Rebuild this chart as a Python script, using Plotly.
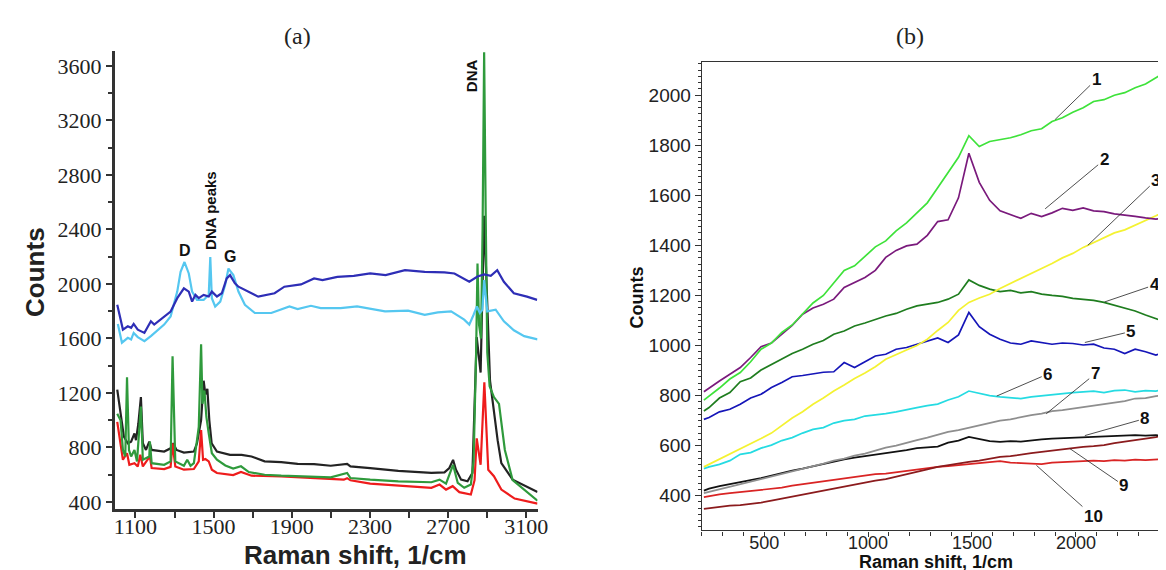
import plotly.graph_objects as go

W, H = 1166, 570

# ---------------- Panel (a) data ----------------
a_dblue_x = [1007,1036,1061,1078,1091,1112,1146,1179,1196,1247,1280,1314,1348,1373,1390,1407,1424,1449,1475,1491,
             1517,1542,1567,1584,1609,1627,1677,1728,1812,1862,1947,2014,2057,2133,2217,2301,2380,2479,2580,2681,
             2732,2766,2808,2850,2884,2918,2951,2985,3036,3103,3155]
a_dblue_y = [1847,1665,1689,1678,1707,1665,1641,1726,1702,1762,1798,1896,1968,1944,1871,1920,1896,1920,1908,1944,
             1908,1932,2041,2065,2004,1980,1944,1907,1932,1980,1997,2041,2028,2052,2060,2077,2065,2101,2089,2085,
             2077,2052,2016,2055,2070,2060,2101,2016,1932,1907,1883]

a_lblue_x = [1010,1031,1061,1078,1091,1112,1146,1179,1247,1280,1314,1331,1351,1373,1390,1415,1449,1475,1483,1491,
             1508,1534,1559,1576,1601,1627,1660,1711,1795,1888,1930,1998,2048,2150,2234,2301,2377,2495,2580,2647,
             2715,2782,2808,2830,2847,2862,2875,2884,2900,2943,2985,3036,3089,3157]
a_lblue_y = [1707,1569,1605,1593,1641,1610,1580,1617,1702,1762,1944,2089,2161,2077,1944,1883,1883,1920,2198,1896,
             1835,1871,1992,2113,2065,1944,1847,1787,1787,1835,1816,1840,1823,1823,1835,1816,1799,1804,1774,1791,
             1799,1738,1702,1774,1835,1787,1810,2028,1799,1811,1726,1660,1617,1593]

a_black_x = [1007,1027,1041,1061,1078,1095,1103,1115,1128,1138,1154,1171,1183,1247,1280,1294,1310,1348,1399,1415,
             1436,1449,1458,1468,1478,1490,1517,1584,1643,1694,1761,1846,1930,2014,2099,2183,2200,2301,2445,2614,
             2681,2706,2725,2740,2766,2799,2824,2846,2866,2884,2914,2953,2972,3030,3157]
a_black_y = [1225,1024,879,831,843,903,854,976,1170,831,782,843,782,770,794,831,782,763,770,831,
             1000,1290,1190,1230,1000,830,770,746,746,734,698,693,680,678,666,680,661,649,629,613,
             617,649,709,637,564,552,613,1610,1350,2500,1290,854,685,564,473]

a_green_x = [1007,1024,1036,1048,1057,1067,1078,1095,1108,1128,1138,1171,1174,1183,1247,1280,1290,1304,1348,1365,
             1382,1399,1415,1424,1436,1443,1453,1463,1475,1491,1517,1560,1600,1640,1680,1761,1846,1930,2014,2099,
             2183,2200,2301,2445,2614,2656,2689,2725,2749,2782,2816,2830,2843,2850,2858,2868,2876,2884,2892,2900,
             2912,2934,2960,2990,3030,3157]
a_green_y = [1048,1000,782,734,1315,782,734,782,698,1100,710,734,843,685,673,698,1470,698,666,710,
             666,685,854,952,1557,1121,1218,1024,903,758,710,668,645,662,620,600,593,588,581,581,
             613,576,564,552,545,564,535,673,540,504,528,700,1500,2150,1700,1600,2400,3700,2500,1500,
             1250,1170,1120,782,560,409]

a_red_x = [1007,1024,1036,1057,1069,1095,1112,1125,1138,1174,1183,1247,1280,1290,1304,1348,1399,1424,1436,1446,
           1458,1475,1491,1517,1560,1600,1640,1694,1846,2014,2166,2183,2200,2301,2445,2614,2656,2689,2723,2757,
           2816,2835,2846,2866,2885,2905,2934,2972,3040,3157]
a_red_y = [988,831,710,758,673,685,661,746,661,734,649,642,658,831,661,637,642,698,927,710,
           715,698,637,613,605,598,620,593,588,576,564,575,559,535,520,504,528,491,516,472,
           455,560,867,673,1278,637,589,491,425,388]

a_x_ticks = [1100, 1500, 1900, 2300, 2700, 3100]
a_y_ticks = [400, 800, 1200, 1600, 2000, 2400, 2800, 3200, 3600]

# ---------------- Panel (b) data ----------------
b_x = [210,235,285,335,385,435,485,535,585,635,685,735,785,835,885,935,985,1035,1085,1135,1185,1235,1285,1335,
       1385,1435,1485,1535,1585,1635,1685,1735,1785,1835,1885,1935,1985,2035,2085,2135,2185,2235,2285,2335,2385,2410]
b_y1 = [782,798,830,866,892,935,985,1010,1052,1082,1125,1170,1200,1248,1300,1318,1356,1394,1418,1458,1490,1532,1570,1630,
        1690,1752,1838,1795,1815,1822,1830,1842,1858,1866,1895,1910,1932,1950,1975,1982,2000,2010,2030,2045,2068,2082]
b_y2 = [815,830,858,885,912,952,995,1010,1045,1080,1125,1150,1165,1185,1232,1252,1272,1300,1352,1380,1398,1405,1440,1495,
        1502,1590,1768,1652,1580,1538,1522,1508,1528,1515,1530,1548,1540,1550,1538,1535,1526,1522,1516,1510,1505,1508]
b_y3 = [515,525,548,565,588,605,628,650,680,710,735,765,790,818,842,868,890,915,945,962,982,1000,1025,1060,
        1092,1140,1172,1190,1205,1228,1248,1265,1285,1305,1328,1350,1368,1392,1412,1432,1450,1462,1480,1498,1518,1530]
b_y4 = [738,752,790,812,855,870,902,925,948,968,985,1005,1020,1045,1058,1078,1090,1105,1118,1128,1145,1158,1165,1172,
        1185,1205,1262,1240,1225,1215,1220,1210,1215,1205,1200,1196,1188,1185,1180,1172,1160,1148,1138,1122,1108,1100]
b_y5 = [705,712,735,745,765,790,805,832,852,875,880,888,893,895,932,912,935,958,965,985,992,1005,1020,1030,
        1012,1042,1132,1075,1045,1025,1010,1005,1018,1012,1005,1010,1008,1002,1005,990,985,968,985,975,962,968]
b_y6 = [508,515,525,540,565,572,590,602,620,632,650,665,672,690,700,705,718,722,728,735,745,752,760,766,
        782,795,818,808,800,795,790,788,795,800,805,810,812,815,818,812,820,822,815,820,818,822]
b_y7 = [410,415,428,435,448,455,465,475,485,496,505,518,528,540,548,560,568,580,592,600,612,622,632,645,
        655,662,672,680,690,700,705,715,722,728,738,742,748,752,760,765,772,778,788,790,798,800]
b_y8 = [420,428,438,445,455,462,470,480,492,500,508,518,528,538,545,552,558,562,568,575,582,590,592,596,
        612,620,635,628,618,615,618,616,622,625,628,630,632,634,636,635,638,640,642,640,642,640]
b_y9 = [347,350,356,360,362,366,372,380,388,395,405,412,422,430,438,445,452,460,466,475,485,495,505,515,
        522,530,535,540,548,555,558,565,570,575,580,588,592,595,598,602,610,615,622,628,634,638]
b_y10 = [394,398,405,410,414,418,423,428,432,440,446,452,458,465,470,475,480,486,488,494,500,505,510,515,
         518,522,525,530,535,538,532,530,528,526,532,535,536,538,540,538,542,540,544,542,545,546]

b_series = [b_y1, b_y2, b_y3, b_y4, b_y5, b_y6, b_y7, b_y8, b_y9, b_y10]
b_names = ["1", "2", "3", "4", "5", "6", "7", "8", "9", "10"]
b_colors = ["#3ee23a", "#7a1a7c", "#f4f232", "#1f7d1f", "#1515b8",
            "#25dbe2", "#8e8e8e", "#111111", "#8b1b1d", "#d92424"]
b_x_ticks = [500, 1000, 1500, 2000]
b_y_ticks = [400, 600, 800, 1000, 1200, 1400, 1600, 1800, 2000]

# label anchor points (data) and label offsets (px) for panel (b)
b_lab_x = [1900, 1852, 2057, 2138, 2043, 1619, 1857, 2043, 1971, 1810]
b_lab_y = [1903, 1546, 1400, 1174, 1012, 798, 727, 640, 588, 521]
b_lab_ax = [41, 59, 68, 50, 46, 51, 49, 60, 54, 57]
b_lab_ay = [-40, -49, -65, -17, -11, -22, -40, -17, 37, 51]

fig = go.Figure()

a_traces = [(a_black_x, a_black_y, "#232323"), (a_red_x, a_red_y, "#ee1c1c"),
            (a_green_x, a_green_y, "#2f9a3c"), (a_lblue_x, a_lblue_y, "#55c7f0"),
            (a_dblue_x, a_dblue_y, "#2e2eb6")]
for xs, ys, c in a_traces:
    fig.add_trace(go.Scatter(x=xs, y=ys, mode="lines", line=dict(color=c, width=2.2),
                             xaxis="x", yaxis="y", showlegend=False, hoverinfo="skip"))

for i in range(len(b_series) - 1, -1, -1):
    fig.add_trace(go.Scatter(x=b_x, y=b_series[i], mode="lines", name=b_names[i],
                             line=dict(color=b_colors[i], width=1.7),
                             xaxis="x2", yaxis="y2", showlegend=False, hoverinfo="skip"))

serif = "Liberation Serif, Times New Roman, serif"
sans = "Liberation Sans, Arial, sans-serif"

fig.update_layout(
    width=W, height=H, autosize=False,
    margin=dict(l=0, r=0, t=0, b=0),
    paper_bgcolor="white", plot_bgcolor="white",
    xaxis=dict(domain=[107 / W, 534 / W], range=[995, 3157], anchor="y",
               showline=True, linewidth=3, linecolor="#333333", showgrid=False, zeroline=False,
               ticks="outside", tickvals=a_x_ticks, ticklen=6, tickwidth=1.5, tickcolor="#333333",
               ticklabelstandoff=-10,
               minor=dict(dtick=200, tick0=1100, ticks="outside", ticklen=6, tickwidth=1.5, tickcolor="#333333"),
               tickfont=dict(family=serif, size=22, color="#222222")),
    yaxis=dict(domain=[1 - 506 / H, 1 - 43 / H], range=[351, 3713], anchor="x",
               showline=True, linewidth=3, linecolor="#333333", showgrid=False, zeroline=False,
               ticks="outside", tickvals=a_y_ticks, ticklen=6, tickwidth=1.5, tickcolor="#333333",
               minor=dict(dtick=200, tick0=400, ticks="outside", ticklen=4, tickwidth=1.5, tickcolor="#333333"),
               tickfont=dict(family=serif, size=22, color="#222222")),
    xaxis2=dict(domain=[700 / W, 1.0], range=[200, 2419], anchor="y2",
                showline=True, mirror=True, linewidth=1.3, linecolor="#333333", showgrid=False, zeroline=False,
                ticks="outside", tickvals=b_x_ticks, ticklen=5, tickwidth=1, tickcolor="#333333",
                ticklabelstandoff=-9,
                minor=dict(dtick=100, tick0=200, ticks="outside", ticklen=4, tickwidth=1, tickcolor="#333333"),
                tickfont=dict(family=sans, size=18, color="#222222")),
    yaxis2=dict(domain=[1 - 528 / H, 1 - 55 / H], range=[261, 2131], anchor="x2",
                showline=True, linewidth=1.3, linecolor="#333333", showgrid=False, zeroline=False,
                ticks="outside", tickvals=b_y_ticks, ticklen=6, tickwidth=1, tickcolor="#333333",
                minor=dict(dtick=25, tick0=400, ticks="outside", ticklen=3, tickwidth=1, tickcolor="#333333"),
                tickfont=dict(family=sans, size=19, color="#222222")),
)

ann = []


def paper_text(text, px, py, size, family, color="#222222", angle=0):
    return dict(text=text, x=px / W, y=1 - py / H, xref="paper", yref="paper", showarrow=False,
                xanchor="center", yanchor="middle", textangle=angle,
                font=dict(family=family, size=size, color=color))


# panel titles
ann.append(paper_text("(a)", 291, 28, 24, serif))
ann.append(paper_text("(b)", 910, 28, 24, serif))
# axis titles
ann.append(paper_text("<b>Counts</b>", 26, 267, 26, sans, angle=-90))
ann.append(paper_text("<b>Raman shift, 1/cm</b>", 350, 553, 26, sans))
ann.append(paper_text("<b>Counts</b>", 634, 292, 18, sans, color="#111111", angle=-90))
ann.append(paper_text("<b>Raman shift, 1/cm</b>", 937, 560, 18, sans, color="#111111"))
# panel (a) peak labels
ann.append(dict(text="<b>D</b>", x=1355, y=2246, xref="x", yref="y", showarrow=False,
                font=dict(family=sans, size=16, color="#111111")))
ann.append(dict(text="<b>DNA peaks</b>", x=1483, y=2538, xref="x", yref="y", showarrow=False, textangle=-90,
                font=dict(family=sans, size=15, color="#111111")))
ann.append(dict(text="<b>G</b>", x=1584, y=2198, xref="x", yref="y", showarrow=False,
                font=dict(family=sans, size=16, color="#111111")))
ann.append(dict(text="<b>DNA</b>", x=2816, y=3531, xref="x", yref="y", showarrow=False, textangle=-90,
                font=dict(family=sans, size=15, color="#111111")))
# panel (b) curve labels
for i in range(len(b_names)):
    ann.append(dict(text="<b>" + b_names[i] + "</b>", x=b_lab_x[i], y=b_lab_y[i], xref="x2", yref="y2",
                    ax=b_lab_ax[i], ay=b_lab_ay[i], showarrow=True, arrowhead=0, arrowwidth=0.8,
                    arrowcolor="#222222", standoff=0,
                    font=dict(family=sans, size=17, color="#111111")))
fig.update_layout(annotations=ann)

fig.write_html("out.html")
